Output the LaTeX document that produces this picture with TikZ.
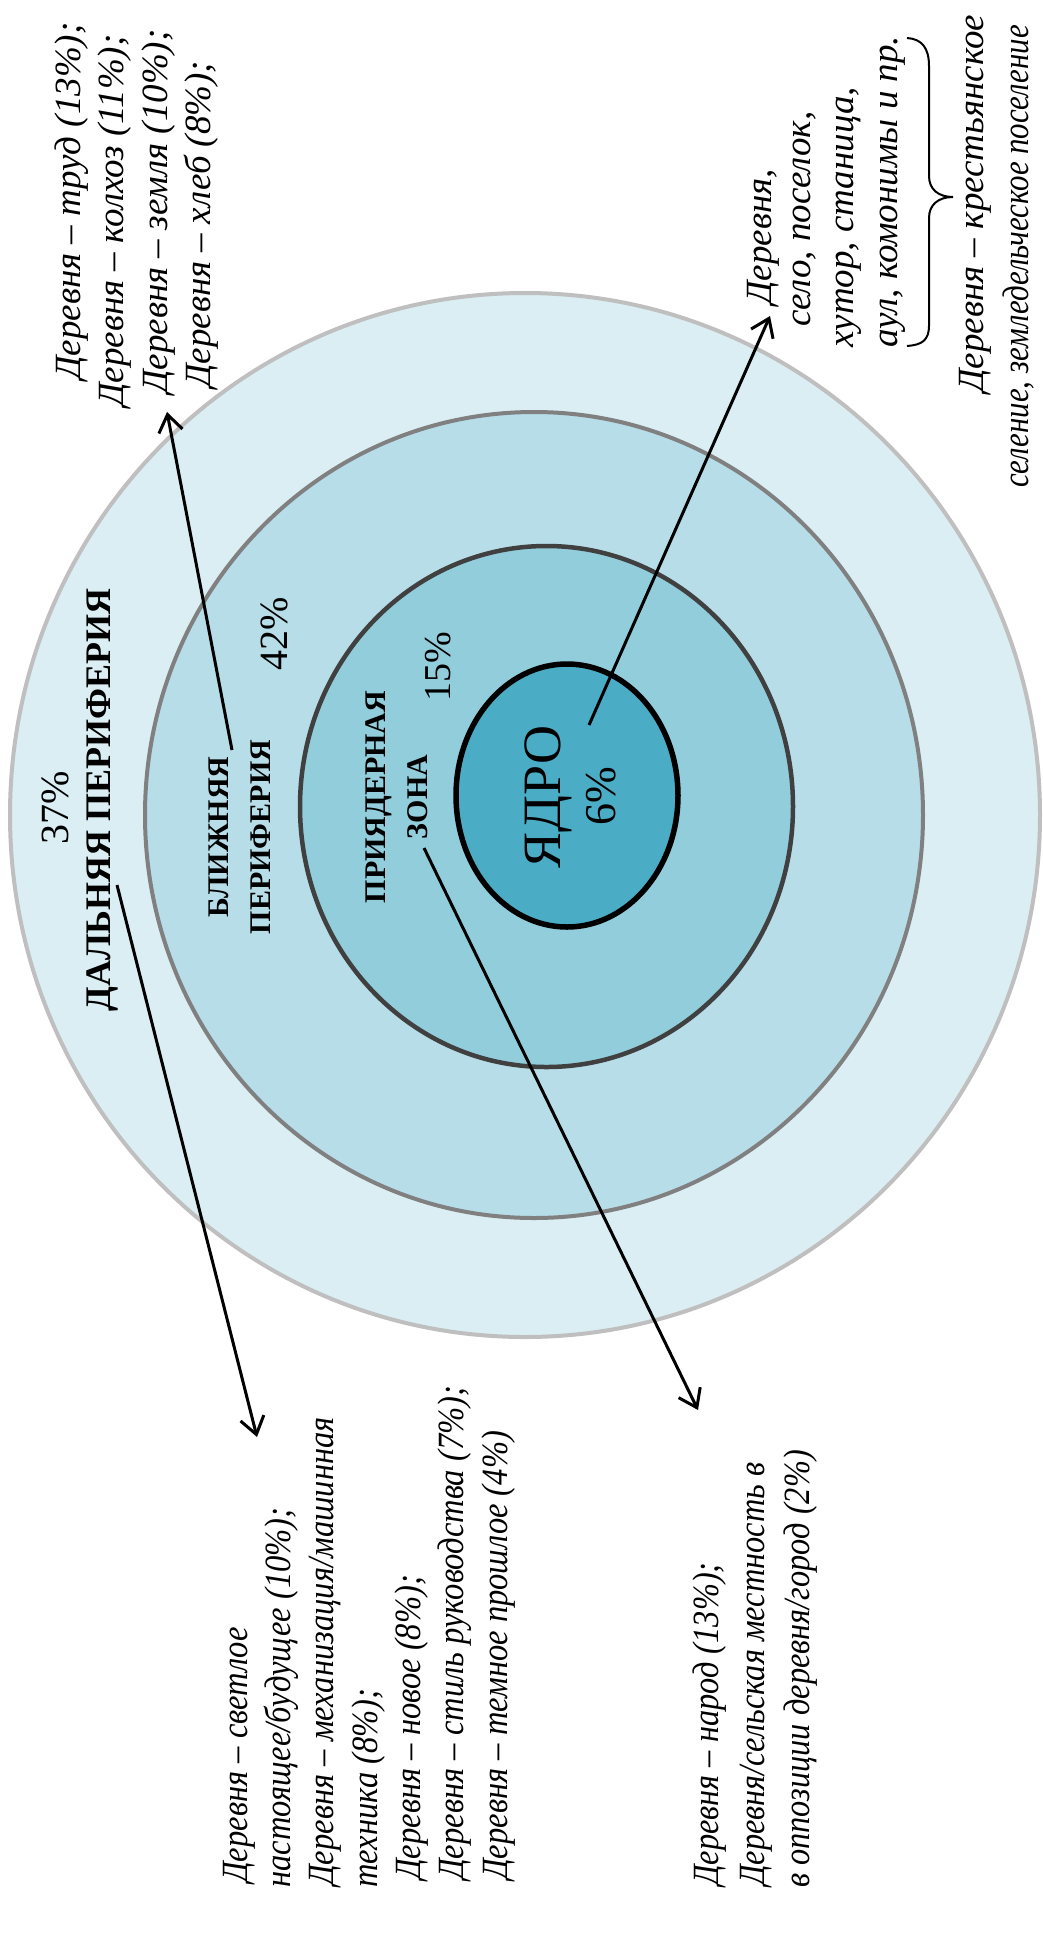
\documentclass[tikz,border=0pt]{standalone}
\usepackage{graphicx}
\usepackage{fontspec}
\setmainfont{Liberation Serif}
\usetikzlibrary{arrows.meta}
\definecolor{ringA}{HTML}{DAEEF3}
\definecolor{ringB}{HTML}{B7DDE8}
\definecolor{ringC}{HTML}{92CDDC}
\definecolor{coreD}{HTML}{4BACC6}
\definecolor{lineA}{HTML}{BFBFBF}
\definecolor{lineB}{HTML}{808080}
\definecolor{lineC}{HTML}{404040}
\newcommand{\narrowtxt}[2]{\scalebox{#1}[1]{#2}}
\begin{document}
\begin{tikzpicture}[x=1pt,y=-1pt,
  txt/.style={rotate=90, anchor=base west, inner sep=0pt, font=\itshape\fontsize{37}{43}\selectfont},
  zonelbl/.style={rotate=90, anchor=base, inner sep=0pt, font=\bfseries\fontsize{30}{36}\selectfont},
  pct/.style={rotate=90, anchor=base, inner sep=0pt, font=\fontsize{40}{46}\selectfont},
  arr/.style={line width=3pt, -{Straight Barb[length=17pt,width=24pt]}}]
\useasboundingbox (0,0) rectangle (1043,1955);
% rings
\draw[fill=ringA, draw=lineA, line width=4pt] (525,815) ellipse [x radius=515, y radius=522];
\draw[fill=ringB, draw=lineB, line width=4pt] (534,815) ellipse [x radius=389, y radius=403];
\draw[fill=ringC, draw=lineC, line width=4.5pt] (546.5,806.5) ellipse [x radius=246.5, y radius=260.5];
\draw[fill=coreD, draw=black, line width=5.5pt] (567,795.5) ellipse [x radius=111, y radius=131.5];
% zone labels
\node[pct] (p37) at (68,808) {37\%};
\node[zonelbl, font=\bfseries\fontsize{36}{42}\selectfont] (far) at (110,800) {ДАЛЬНЯЯ ПЕРИФЕРИЯ};
\node[zonelbl] (near1) at (228,837) {БЛИЖНЯЯ};
\node[zonelbl] (near2) at (270,837) {ПЕРИФЕРИЯ};
\node[pct] (p42) at (287,634) {42\%};
\node[zonelbl] (pz1) at (385,797) {ПРИЯДЕРНАЯ};
\node[zonelbl] (pz2) at (427,797) {ЗОНА};
\node[pct, font=\fontsize{38}{44}\selectfont] (p15) at (450,667) {15\%};
\node[pct, font=\fontsize{54}{60}\selectfont] (core) at (560,797) {ЯДРО};
\node[pct, font=\fontsize{44}{50}\selectfont] (p6) at (615,796) {6\%};
% top-left block
\node[txt] (tl1) at (80,380) {Деревня – труд (13\%);};
\node[txt] (tl2) at (123,407) {Деревня – колхоз (11\%);};
\node[txt] (tl3) at (167,394) {Деревня – земля (10\%);};
\node[txt] (tl4) at (210,388) {Деревня – хлеб (8\%);};
% top-right block
\node[txt] (tr1) at (771,305) {Деревня,};
\node[txt] (tr2) at (810,327) {село, поселок,};
\node[txt] (tr3) at (853,348) {хутор, станица,};
\node[txt] (tr4) at (897,348) {аул, комонимы и пр.};
\node[txt] (tr5) at (983,393) {Деревня – крестьянское};
\node[txt] (tr6) at (1028,488) {\narrowtxt{0.835}{селение, земледельческое поселение}};
% brace
\draw[line width=2pt] (907,38) .. controls (922,39) and (929,48) .. (929,66) -- (929,176)
  .. controls (929,189) and (938,197) .. (953,197)
  .. controls (938,197) and (929,205) .. (929,218) -- (929,326)
  .. controls (929,340) and (922,345) .. (907,346);
% bottom-left block
\node[txt] (bl1) at (247,1883) {\narrowtxt{0.88}{Деревня – светлое}};
\node[txt] (bl2) at (290,1888) {\narrowtxt{0.88}{настоящее/будущее (10\%);}};
\node[txt] (bl3) at (333,1886) {\narrowtxt{0.88}{Деревня – механизация/машинная}};
\node[txt] (bl4) at (377,1888) {\narrowtxt{0.88}{техника (8\%);}};
\node[txt] (bl5) at (420,1880) {\narrowtxt{0.88}{Деревня – новое (8\%);}};
\node[txt] (bl6) at (463,1880) {\narrowtxt{0.88}{Деревня – стиль руководства (7\%);}};
\node[txt] (bl7) at (507,1880) {\narrowtxt{0.88}{Деревня – темное прошлое (4\%)}};
% bottom-right block
\node[txt] (br1) at (718,1886) {\narrowtxt{0.875}{Деревня – народ (13\%);}};
\node[txt] (br2) at (764,1886) {\narrowtxt{0.875}{Деревня/сельская местность в}};
\node[txt] (br3) at (809,1888) {\narrowtxt{0.875}{в оппозиции деревня/город (2\%)}};
% arrow ends
\coordinate (aCoreS) at (589,725);
\coordinate (aCoreE) at (770,316);
\coordinate (aNearS) at (232,750);
\coordinate (aNearE) at (167,412);
\coordinate (aFarS) at (117,885);
\coordinate (aFarE) at (257,1437);
\coordinate (aPzS) at (424,848);
\coordinate (aPzE) at (698,1410);
\draw[arr] (aCoreS) -- (aCoreE);
\draw[arr] (aNearS) -- (aNearE);
\draw[arr] (aFarS) -- (aFarE);
\draw[arr] (aPzS) -- (aPzE);
\end{tikzpicture}
\end{document}
